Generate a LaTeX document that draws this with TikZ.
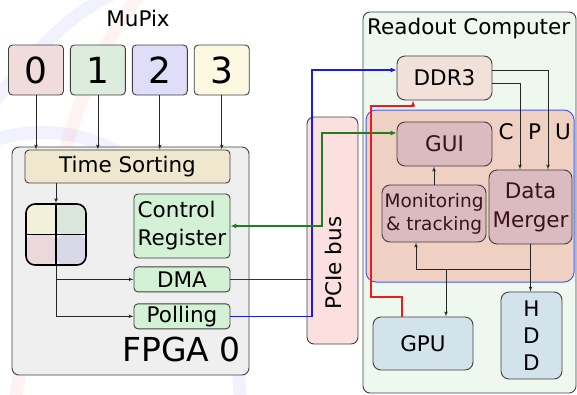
\documentclass[tikz,border=0pt]{standalone}
\usepackage{fontspec}
\setmainfont{DejaVu Sans}
\usepackage{xcolor}
\usepackage{tikz}
\usetikzlibrary{arrows, arrows.meta, positioning, calc}

\definecolor{chipred}{HTML}{F1DCDC}
\definecolor{chipgreen}{HTML}{DDEDDD}
\definecolor{chipblue}{HTML}{DFDDF8}
\definecolor{chipyellow}{HTML}{FDF8E2}
\definecolor{quadtl}{HTML}{F2F0D8}
\definecolor{quadtr}{HTML}{D9E6D9}
\definecolor{quadbl}{HTML}{EBD8DA}
\definecolor{quadbr}{HTML}{D8D8E8}
\definecolor{fpgagray}{HTML}{EFEFEF}
\definecolor{sortbeige}{HTML}{F0E8CE}
\definecolor{regsgreen}{HTML}{D3F1D5}
\definecolor{pciepink}{HTML}{FCE0E0}
\definecolor{pcgreen}{HTML}{EEF8EE}
\definecolor{ddrpeach}{HTML}{F1E1D9}
\definecolor{cpupeach}{HTML}{F0D0C3}
\definecolor{cpuedge}{HTML}{3F5CF5}
\definecolor{swmauve}{HTML}{DBBAC0}
\definecolor{swtext}{HTML}{3A1414}
\definecolor{hwblue}{HTML}{D3E3EC}
\definecolor{edgegray}{HTML}{404040}
\definecolor{busblue}{HTML}{1A1AF0}
\definecolor{busgreen}{HTML}{1F7F1F}
\definecolor{busred}{HTML}{F01A1A}

\tikzstyle{chip} = [rectangle, draw=edgegray, line width=0.9pt, rounded corners=4pt, inner sep=0pt, minimum width=55pt, minimum height=50pt, font=\fontsize{36}{36}\selectfont]
\tikzstyle{block} = [rectangle, draw=edgegray, line width=0.9pt, rounded corners=4pt, inner sep=0pt]
\tikzstyle{frame} = [rectangle, draw=edgegray, line width=0.9pt, rounded corners=7pt, inner sep=0pt]
\tikzstyle{sw} = [block, fill=swmauve, text=swtext, rounded corners=8pt]
\tikzstyle{hw} = [block, fill=hwblue, rounded corners=8pt]
\tikzstyle{link} = [draw=black!85, -latex', line width=0.7pt]
\tikzstyle{dmabus} = [draw=busblue, line width=1.6pt]
\tikzstyle{regbus} = [draw=busgreen, line width=1.3pt, {Latex[length=6pt,width=5pt]}-{Latex[length=6pt,width=5pt]}]
\tikzstyle{gpubus} = [draw=busred, line width=1.3pt, -{Latex[length=6pt,width=5pt]}]
\tikzstyle{logoarc} = [line width=13pt, line cap=round, opacity=0.05]

\begin{document}
\begin{tikzpicture}[x=1pt, y=-1pt, font=\fontsize{21.5}{27}\selectfont]
    \useasboundingbox (0,0) rectangle (577,394);

    % faint logo behind the diagram
    \draw [logoarc, draw=red] (15,400) .. controls (40,260) and (60,90) .. (140,-5);
    \draw [logoarc, draw=blue] (-5,140) .. controls (100,105) and (235,190) .. (240,400);
    \draw [logoarc, draw=blue] (-5,100) .. controls (30,60) and (60,20) .. (110,-5);

    % sensors and the FPGA board
    \node (mupix) [anchor=base] at (138,26) {MuPix};
    \node (m0) [chip, fill=chipred] at (36,70) {0};
    \node (m1) [chip, fill=chipgreen, right=6pt of m0] {1};
    \node (m2) [chip, fill=chipblue, right=6pt of m1] {2};
    \node (m3) [chip, fill=chipyellow, right=6pt of m2] {3};

    \node (fpga) [frame, fill=fpgagray, minimum width=237pt, minimum height=228pt] at (130.5,261) {};
    \node (ts) [block, fill=sortbeige, minimum width=205pt, minimum height=33pt] at (127.5,166.5) {Time Sorting};
    \node (quad) [draw=black, line width=1.6pt, rounded corners=9pt, inner sep=0pt, minimum width=60pt, minimum height=61pt,
        path picture={
            \fill [quadtl] (path picture bounding box.north west) rectangle (path picture bounding box.center);
            \fill [quadtr] (path picture bounding box.north east) rectangle (path picture bounding box.center);
            \fill [quadbl] (path picture bounding box.south west) rectangle (path picture bounding box.center);
            \fill [quadbr] (path picture bounding box.south east) rectangle (path picture bounding box.center);
            \draw [line width=1.6pt] (path picture bounding box.north) -- (path picture bounding box.south);
            \draw [line width=1.6pt] (path picture bounding box.west) -- (path picture bounding box.east);
        }] at (56,234.5) {};
    \node (ctrl) [block, fill=regsgreen, minimum width=96pt, minimum height=64pt, align=left, font=\fontsize{21.5}{28}\selectfont] at (182,226) {Control\\Register};
    \node (dma) [block, fill=regsgreen, minimum width=96pt, minimum height=25pt, below=8pt of ctrl] {DMA};
    \node (poll) [block, fill=regsgreen, minimum width=96pt, minimum height=25pt, below=11pt of dma] {Polling};
    \node (fpganame) [anchor=base east, inner sep=0pt, font=\fontsize{33}{33}\selectfont] at (241,361) {FPGA 0};

    \node (pcie) [frame, fill=pciepink, minimum width=51pt, minimum height=227pt] at (332.5,230.5) {};
    \node (pciename) [rotate=90] at (333,263) {PCIe bus};

    % readout computer
    \node (pc) [frame, fill=pcgreen, minimum width=213pt, minimum height=381pt] at (469.5,202.5) {};
    \node (pcname) [anchor=base west, inner sep=0pt] at (367,34) {Readout Computer};
    \node (cpu) [draw=cpuedge, line width=1pt, fill=cpupeach, rounded corners=10pt, minimum width=208pt, minimum height=172pt] at (470,196) {};
    \node (cpuc) [anchor=base] at (506,139) {C};
    \node (cpup) [anchor=base] at (534.5,139) {P};
    \node (cpuu) [anchor=base] at (563,139) {U};
    \node (ddr) [block, fill=ddrpeach, rounded corners=8pt, minimum width=95pt, minimum height=44pt] at (444.5,78) {DDR3};
    \node (gui) [sw, minimum width=95pt, minimum height=44pt] at (444.5,144) {GUI};
    \node (mon) [sw, minimum width=104pt, minimum height=57pt, align=center, font=\fontsize{18.5}{23}\selectfont] at (434,213.5) {Monitoring\\\& tracking};
    \node (dm) [sw, minimum width=83pt, minimum height=74pt, align=center, font=\fontsize{21.5}{29}\selectfont] at (530.5,207) {Data\\Merger};
    \node (gpu) [hw, minimum width=100pt, minimum height=53pt] at (423,343.5) {GPU};
    \node (hdd) [hw, minimum width=61pt, minimum height=87pt, align=center] at (531.5,335.5) {H\\D\\D};

    % data flow on the board
    \draw [link] (m0.south) -- (m0.south |- ts.north);
    \draw [link] (m1.south) -- (m1.south |- ts.north);
    \draw [link] (m2.south) -- (m2.south |- ts.north);
    \draw [link] (m3.south) -- (m3.south |- ts.north);
    \draw [link] (ts.south -| quad.north) -- (quad.north);
    \draw [link] (quad.south) |- (dma.west);
    \draw [link] (quad.south) |- (poll.west);

    % PCIe connections
    \coordinate (busup) at (312,70);
    \coordinate (regup) at (322,133);
    \draw [dmabus] (dma.east) -- (dma.east -| busup);
    \draw [dmabus, -{Latex[length=6pt,width=5pt]}] (poll.east) -| (busup) -- (busup -| ddr.west);
    \draw [regbus] (ctrl.east) -| (regup) -- (regup -| gui.west);

    % inside the computer
    \coordinate (gpuleft) at (371,297);
    \coordinate (ddrbelow) at (413,106);
    \draw [gpubus] ([xshift=-21pt]gpu.north) |- (gpuleft) |- (ddrbelow) -- (ddrbelow |- ddr.south);
    \draw [link] ([yshift=8pt]ddr.east) -| ([xshift=17.5pt]dm.north);
    \draw [link] ([yshift=-5pt]ddr.east) -| ([xshift=-10.5pt]dm.north);
    \draw [link] (mon.north) -- (mon.north |- gui.south);
    \draw [link] (dm.south) -- (dm.south |- hdd.north);
    \coordinate (split) at (531,269);
    \coordinate (gpusplit) at (446,269);
    \draw [link] (split) -| ([xshift=-18pt]mon.south);
    \draw [link] (gpusplit) -- (gpusplit |- gpu.north);
\end{tikzpicture}
\end{document}
